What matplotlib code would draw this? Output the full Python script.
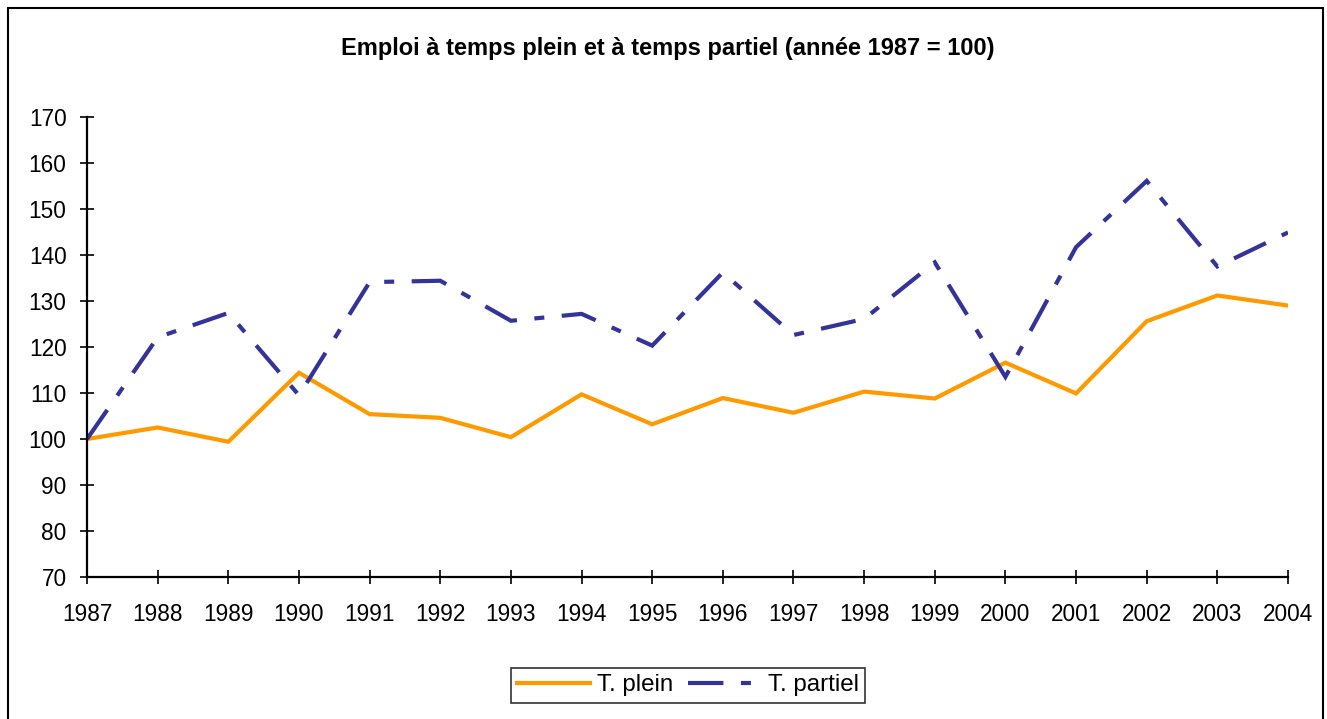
import matplotlib.pyplot as plt
from matplotlib.patches import Rectangle

# Data (année 1987 = 100)
years = list(range(1987, 2005))
plein = [100, 102.5, 99.4, 114.4, 105.4, 104.6, 100.4, 109.7, 103.2,
         108.9, 105.7, 110.3, 108.8, 116.6, 109.9, 125.6, 131.2, 129.0]
partiel = [100, 122.1, 127.4, 109.5, 134.1, 134.4, 125.7, 127.2, 120.3,
           136.2, 122.6, 126.1, 138.4, 113.5, 141.7, 156.1, 137.5, 144.9]
yticks = list(range(70, 171, 10))

plt.rcParams['font.family'] = ['Liberation Sans', 'DejaVu Sans']

fig = plt.figure(figsize=(13.27, 7.19), dpi=100)
ax = fig.add_axes([0.0656, 0.1975, 0.905, 0.6398])

ax.plot(years, plein, color='#FF9900', lw=3, label='T. plein',
        solid_joinstyle='miter')
ax.plot(years, partiel, color='#333399', lw=3, label='T. partiel',
        linestyle=(0, (8.5, 4.2, 2.4, 4.2)), dash_joinstyle='miter')

ax.set_xlim(1987, 2004)
ax.set_ylim(70, 170)
ax.set_xticks(years)
ax.set_yticks(yticks)

for s in ['top', 'right']:
    ax.spines[s].set_visible(False)
for s in ['left', 'bottom']:
    ax.spines[s].set_linewidth(1.6)

ax.tick_params(axis='both', direction='inout', length=9.5, width=1.2, labelsize=16.3)
ax.tick_params(axis='y', pad=10)
ax.tick_params(axis='x', pad=14)

fig.text(0.503, 0.933, 'Emploi à temps plein et à temps partiel (année 1987 = 100)',
         ha='center', va='center', fontsize=17, fontweight='bold')

leg = fig.legend(loc='center', bbox_to_anchor=(0.5185, 0.0466), ncol=2,
                 fontsize=17.4, frameon=True, fancybox=False, handlelength=3.0,
                 handletextpad=0.3, columnspacing=0.6, borderpad=0.25,
                 borderaxespad=0)
leg.get_frame().set_edgecolor('black')
leg.get_frame().set_linewidth(1.2)

# outer chart border
fig.patches.append(Rectangle((8 / 1327, -0.1), (1323 - 8) / 1327, 1 - 8 / 719 + 0.1,
                             transform=fig.transFigure, fill=False,
                             edgecolor='black', lw=1.5))

fig.savefig('out.png', dpi=100)
